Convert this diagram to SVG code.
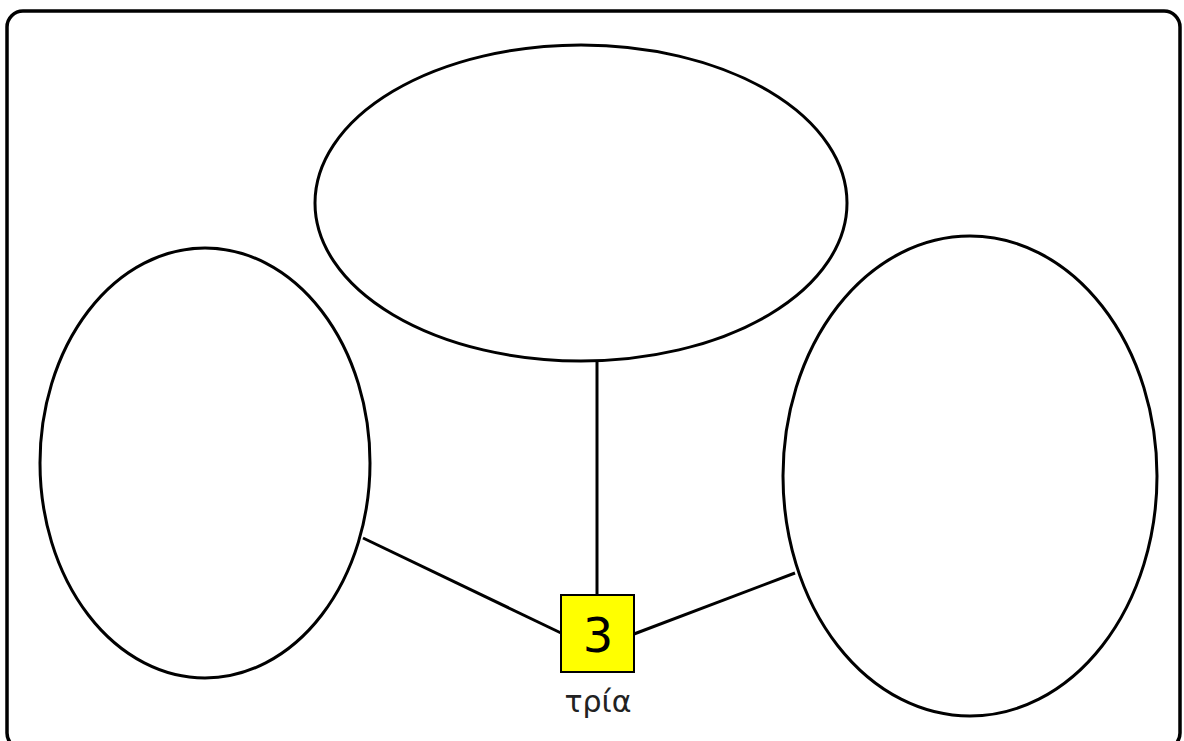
<svg xmlns="http://www.w3.org/2000/svg" width="1184" height="741" viewBox="0 0 1184 741">
<style>
.ell{fill:#fff;stroke:#000;stroke-width:3}
.conn{stroke:#000;stroke-width:3;fill:none}
</style>
<rect x="0" y="0" width="1184" height="741" fill="#fff"/>
<rect id="frame" x="7" y="11" width="1173" height="738" rx="16" ry="16" fill="#fff" stroke="#000" stroke-width="3.5"/>
<g id="connectors">
<line class="conn" x1="597" y1="362" x2="597" y2="595"/>
<line class="conn" x1="363" y1="538" x2="561" y2="633"/>
<line class="conn" x1="634" y1="634" x2="795" y2="573"/>
</g>
<g id="top"><ellipse class="ell" cx="581" cy="203" rx="266" ry="158"/></g>
<g id="left"><ellipse class="ell" cx="205" cy="463" rx="165" ry="215"/></g>
<g id="right"><ellipse class="ell" cx="970" cy="476" rx="187" ry="240"/></g>
<g id="center">
<rect x="561" y="595" width="73" height="77" fill="#ffff00" stroke="#000" stroke-width="2"/>
<text x="598" y="652" text-anchor="middle" font-family="'DejaVu Sans', sans-serif" font-size="48" fill="#000">3</text>
<text x="598" y="712" text-anchor="middle" font-family="'DejaVu Sans', sans-serif" font-size="30" fill="#222">τρία</text>
</g>
</svg>
